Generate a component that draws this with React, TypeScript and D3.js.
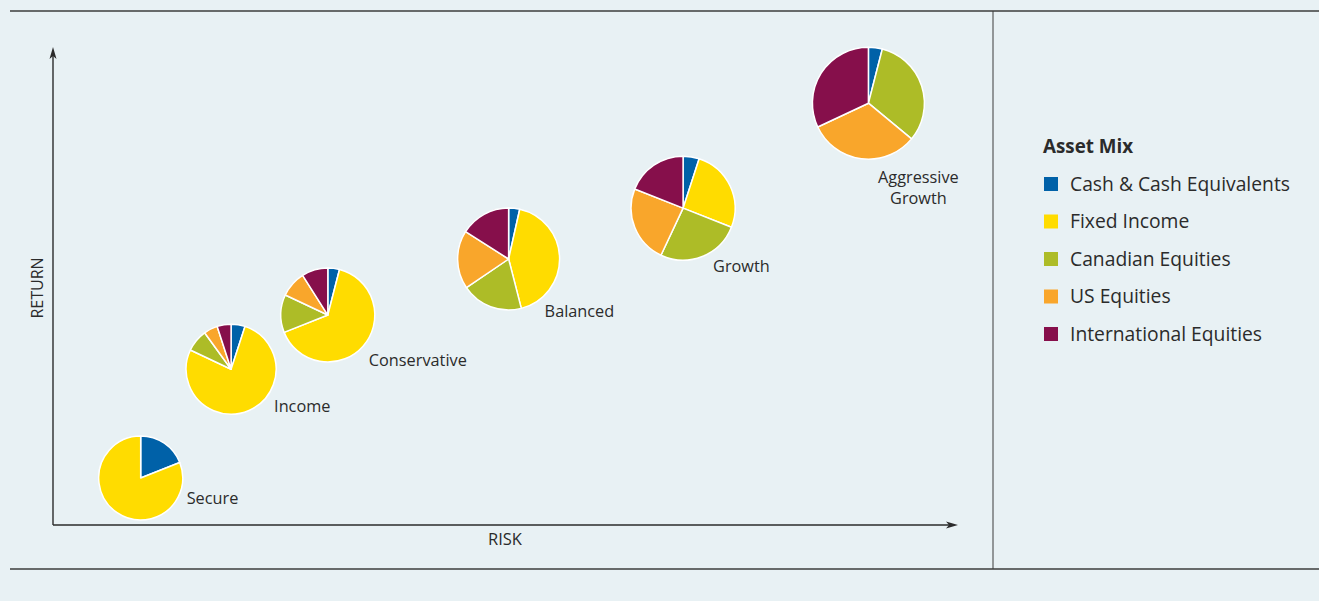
import React from "react";
import * as d3 from "d3";

// ---- data ----
const funds = ["Secure", "Income", "Conservative", "Balanced", "Growth", "Aggressive Growth"];
const risk = [9.7, 19.7, 30.4, 50.4, 69.7, 90.2];
const ret = [9.9, 32.8, 44.2, 56, 66.7, 88.8];
const cash = [19, 5, 4, 3.5, 5, 4];
const fixedIncome = [81, 77, 65, 42.5, 26, 0];
const canadianEquities = [0, 8, 13, 19.5, 26, 32];
const usEquities = [0, 5, 9, 18.5, 24, 32];
const internationalEquities = [0, 5, 9, 16, 19, 32];
const assetClasses = [
  "Cash & Cash Equivalents",
  "Fixed Income",
  "Canadian Equities",
  "US Equities",
  "International Equities",
];
const seriesValues = [cash, fixedIncome, canadianEquities, usEquities, internationalEquities];

// ---- styles / layout ----
const W = 1319;
const H = 601;
const BG = "#e8f1f4";
const TEXT = "#2b2b2b";
const LINE = "#3c3c3c";
const COLORS = ["#0061a8", "#ffdc00", "#adbc27", "#f9a62b", "#860f4b"];
const FONT = "'Open Sans', 'Noto Sans', sans-serif";
const PIE_RADII = [42, 45, 47, 51, 52, 56];
const LABEL_OFFSETS: [number, number, string][] = [
  [46, 26, "start"],
  [43, 43, "start"],
  [41, 51, "start"],
  [36, 58, "start"],
  [30, 64, "start"],
  [50, 80, "middle"],
];

const AX = { x0: 53, x1: 950, y0: 525, y1: 56 };

export default function App() {
  const x = d3.scaleLinear().domain([0, 100]).range([53, 957]);
  const y = d3.scaleLinear().domain([0, 100]).range([525, 50]);
  const pie = d3
    .pie<number>()
    .sort(null)
    .value((d) => d)
    .startAngle(0)
    .endAngle(2 * Math.PI);

  return (
    <svg
      width={W}
      height={H}
      style={{ position: "absolute", left: 0, top: 0, display: "block" }}
      fontFamily={FONT}
    >
      <rect x={0} y={0} width={W} height={H} fill={BG} />
      {/* frame */}
      <line x1={10} x2={W} y1={11} y2={11} stroke={LINE} strokeWidth={1.6} />
      <line x1={10} x2={W} y1={569} y2={569} stroke={LINE} strokeWidth={1.6} />
      <line x1={993} x2={993} y1={11} y2={569} stroke={LINE} strokeWidth={1} />

      {/* axes */}
      <line x1={AX.x0} x2={AX.x0} y1={AX.y0} y2={AX.y1} stroke={TEXT} strokeWidth={1.4} />
      <line x1={AX.x0} x2={AX.x1} y1={AX.y0} y2={AX.y0} stroke={TEXT} strokeWidth={1.4} />
      <path d={`M${AX.x0},47 L${AX.x0 + 3.5},59 L${AX.x0},56 L${AX.x0 - 3.5},59 Z`} fill={TEXT} />
      <path d={`M958,${AX.y0} L946,${AX.y0 - 3.5} L949,${AX.y0} L946,${AX.y0 + 3.5} Z`} fill={TEXT} />
      <text x={505} y={545} textAnchor="middle" fontSize={16.5} fill={TEXT}>
        RISK
      </text>
      <text
        transform={`translate(43,288) rotate(-90)`}
        textAnchor="middle"
        fontSize={16}
        fill={TEXT}
      >
        RETURN
      </text>

      {/* pies */}
      {funds.map((f, i) => {
        const cx = x(risk[i]);
        const cy = y(ret[i]);
        const r = PIE_RADII[i];
        const arc = d3.arc<d3.PieArcDatum<number>>().innerRadius(0).outerRadius(r);
        const vals = seriesValues.map((s) => s[i]);
        const arcs = pie(vals);
        const [dx, dy, anchor] = LABEL_OFFSETS[i];
        const words = f === "Aggressive Growth" ? ["Aggressive", "Growth"] : [f];
        return (
          <g key={f}>
            <g transform={`translate(${cx},${cy})`}>
              {arcs.map((a, j) =>
                a.value > 0 ? (
                  <path
                    key={j}
                    d={arc(a) || ""}
                    fill={COLORS[j]}
                    stroke="#ffffff"
                    strokeWidth={1.5}
                    strokeLinejoin="round"
                  />
                ) : null
              )}
            </g>
            <text x={cx + dx} y={cy + dy} textAnchor={anchor} fontSize={16.3} fill={TEXT}>
              {words.map((w, k) => (
                <tspan key={k} x={cx + dx} dy={k === 0 ? 0 : 20.5}>
                  {w}
                </tspan>
              ))}
            </text>
          </g>
        );
      })}

      {/* legend */}
      <text x={1043} y={153} fontSize={18.8} fontWeight="bold" fill={TEXT}>
        Asset Mix
      </text>
      {assetClasses.map((a, i) => {
        const cy = 184 + i * 37.5;
        return (
          <g key={a}>
            <rect x={1044} y={cy - 7} width={14} height={14} fill={COLORS[i]} />
            <text x={1070} y={cy + 6.5} fontSize={19.3} fill={TEXT}>
              {a}
            </text>
          </g>
        );
      })}
    </svg>
  );
}
